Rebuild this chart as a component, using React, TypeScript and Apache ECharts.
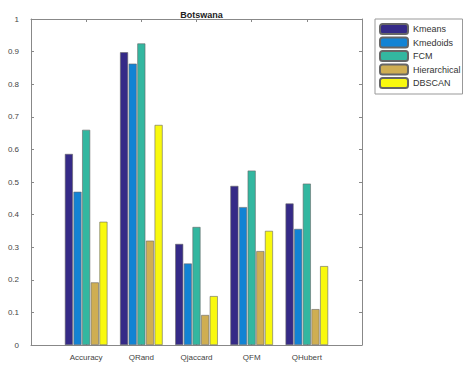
import React, { useEffect, useRef } from "react";
import * as echarts from "echarts";

const categories = ["Accuracy", "QRand", "Qjaccard", "QFM", "QHubert"];
const seriesNames = ["Kmeans", "Kmedoids", "FCM", "Hierarchical", "DBSCAN"];
const kmeans = [0.586, 0.898, 0.31, 0.488, 0.434];
const kmedoids = [0.47, 0.863, 0.25, 0.423, 0.356];
const fcm = [0.66, 0.925, 0.362, 0.535, 0.495];
const hierarchical = [0.192, 0.32, 0.092, 0.288, 0.11];
const dbscan = [0.378, 0.675, 0.15, 0.35, 0.242];
const yTicks = [0, 0.1, 0.2, 0.3, 0.4, 0.5, 0.6, 0.7, 0.8, 0.9, 1];

const colors = ["#352A87", "#1283D4", "#33B7A0", "#CFAE52", "#F9F90E"];

export default function App() {
  const ref = useRef<HTMLDivElement>(null);
  useEffect(() => {
    if (!ref.current) return;
    const chart = echarts.init(ref.current, undefined, { renderer: "svg" });
    const allData = [kmeans, kmedoids, fcm, hierarchical, dbscan];
    const L = 31, R = 362, T = 19, B = 345;
    const band = (R - L) / 6;
    const labelStyle = { color: "#444444", fontSize: 8, fontFamily: "Liberation Sans" };
    const frameLine = { show: true, onZero: false, lineStyle: { color: "#888" } };
    const frameTick = { show: true, inside: true, length: 3, lineStyle: { color: "#888" } };
    chart.setOption({
      animation: false,
      backgroundColor: "#fff",
      title: {
        text: "Botswana",
        left: (L + R) / 2,
        top: 5,
        textAlign: "center",
        textStyle: { fontSize: 9, fontWeight: "bold", color: "#222", fontFamily: "Liberation Sans" },
      },
      legend: {
        orient: "vertical",
        left: 375,
        top: 19,
        itemWidth: 28,
        itemHeight: 10,
        itemGap: 1.5,
        padding: [4, 2, 5, 4],
        borderColor: "#999",
        borderWidth: 1,
        backgroundColor: "#fff",
        textStyle: { fontSize: 9, lineHeight: 10, color: "#333", fontFamily: "Liberation Sans" },
        data: seriesNames,
      },
      grid: [
        { left: L, top: T, width: R - L, height: B - T, show: false },
        { left: L + band / 2, top: T, width: R - L - band, height: B - T, show: false },
      ],
      xAxis: [
        {
          gridIndex: 0, type: "value", min: 0, max: 6, interval: 1, position: "bottom",
          axisLine: frameLine, axisTick: frameTick,
          axisLabel: {
            ...labelStyle, margin: 8,
            formatter: (v: number) => categories[Math.round(v) - 1] ?? "",
          },
          splitLine: { show: false },
        },
        {
          gridIndex: 0, type: "value", min: 0, max: 6, interval: 1, position: "top",
          axisLine: frameLine, axisTick: frameTick,
          axisLabel: { show: false }, splitLine: { show: false },
        },
        {
          gridIndex: 1, type: "category", data: categories, show: false,
        },
      ],
      yAxis: [
        {
          gridIndex: 0, type: "value", min: 0, max: 1, interval: 0.1, position: "left",
          axisLine: frameLine, axisTick: frameTick,
          axisLabel: { ...labelStyle, margin: 12, formatter: (v: number) => {
            const t = yTicks.find((x) => Math.abs(x - v) < 1e-6);
            return t === undefined ? "" : String(t);
          } },
          splitLine: { show: false },
        },
        {
          gridIndex: 0, type: "value", min: 0, max: 1, interval: 0.1, position: "right",
          axisLine: frameLine, axisTick: frameTick,
          axisLabel: { show: false }, splitLine: { show: false },
        },
        {
          gridIndex: 1, type: "value", min: 0, max: 1, show: false,
        },
      ],
      series: seriesNames.map((name, i) => ({
        name,
        type: "bar",
        xAxisIndex: 2,
        yAxisIndex: 2,
        data: allData[i],
        barWidth: 8,
        barGap: "8%",
        itemStyle: { color: colors[i], borderColor: "#666", borderWidth: 0.6 },
      })),
    });
    return () => chart.dispose();
  }, []);
  return <div ref={ref} style={{ position: "fixed", left: 0, top: 0, width: 465, height: 368 }} />;
}
